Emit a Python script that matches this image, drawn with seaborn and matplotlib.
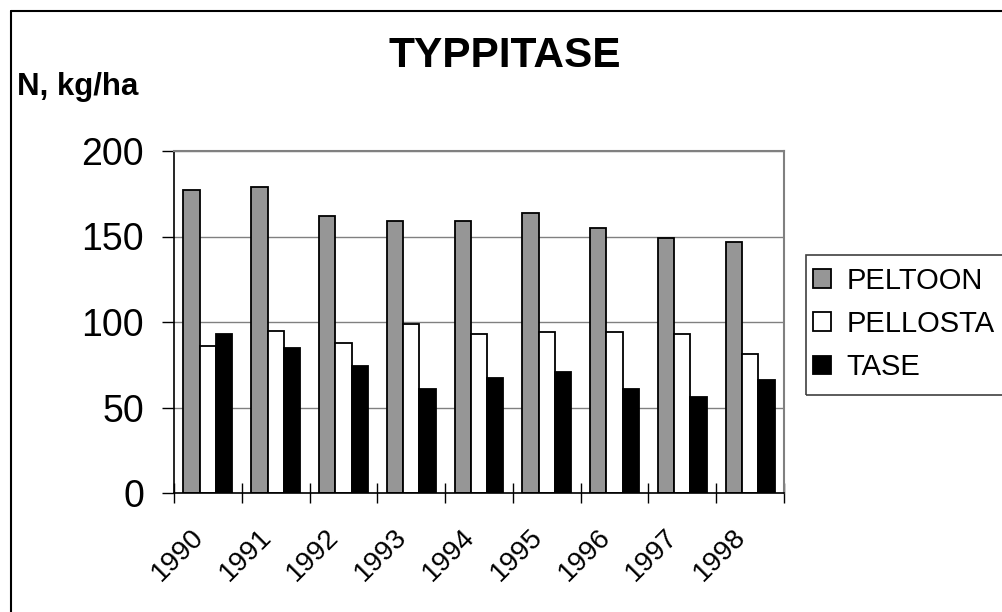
import numpy as np
import matplotlib
matplotlib.use("Agg")
import matplotlib.pyplot as plt
import matplotlib.transforms as mtransforms
from matplotlib.lines import Line2D
from matplotlib.patches import Rectangle
import seaborn as sns
import pandas as pd

years = ['1990', '1991', '1992', '1993', '1994', '1995', '1996', '1997', '1998']
series_names = ['PELTOON', 'PELLOSTA', 'TASE']
peltoon = [177, 179, 162, 159, 159, 164, 155, 149, 147]
pellosta = [86, 95, 88, 99, 93, 94, 94, 93, 81]
tase = [93, 85, 74, 61, 67, 71, 61, 56, 66]
y_ticks = [0, 50, 100, 150, 200]

df = pd.DataFrame({
    'year': years * 3,
    'series': [series_names[0]] * 9 + [series_names[1]] * 9 + [series_names[2]] * 9,
    'value': peltoon + pellosta + tase,
})

sns.set_theme(style='white')
plt.rcParams['font.family'] = ['Liberation Sans', 'DejaVu Sans']
plt.rcParams['text.color'] = 'black'
plt.rcParams['xtick.color'] = 'black'
plt.rcParams['ytick.color'] = 'black'

W, H = 1002, 612
fig = plt.figure(figsize=(W / 100, H / 100), dpi=100)
ax = fig.add_axes([174 / W, 1 - 493 / H, 610 / W, 342 / H])

sns.barplot(data=df, x='year', y='value', hue='series', order=years,
            hue_order=series_names, palette=['#969696', '#ffffff', '#000000'],
            edgecolor='black', linewidth=1.3, width=0.72, saturation=1, ax=ax)

ax.set_xlim(-0.5, len(years) - 0.5)
ax.set_ylim(0, 200)
ax.set_yticks(y_ticks)
ax.set_xlabel('')
ax.set_ylabel('')
ax.grid(axis='y', color='#808080', linewidth=1)
ax.set_axisbelow(True)

for side in ['top', 'right']:
    ax.spines[side].set_color('#808080')
    ax.spines[side].set_linewidth(1.5)
for side in ['left', 'bottom']:
    ax.spines[side].set_color('black')
    ax.spines[side].set_linewidth(1.2)

ax.tick_params(axis='y', direction='out', length=8.5, width=1, color='black',
               labelsize=27, labelcolor='black', pad=13, left=True)
# labels at centres, tick marks at category boundaries
ax.set_xticks(np.arange(-0.5, len(years)), minor=True)
ax.tick_params(axis='x', which='minor', direction='inout', length=15, width=1,
               color='black', bottom=True)
ax.tick_params(axis='x', which='major', length=0, labelsize=20,
               labelcolor='black', pad=29)
offset = mtransforms.ScaledTranslation(-6 / 72, 0, fig.dpi_scale_trans)
for lbl in ax.get_xticklabels():
    lbl.set_rotation(45)
    lbl.set_ha('right')
    lbl.set_va('center')
    lbl.set_rotation_mode('anchor')
    lbl.set_transform(lbl.get_transform() + offset)

handles, labels = ax.get_legend_handles_labels()
ax.get_legend().remove()
fig.legend(handles, labels, loc='center left',
           bbox_to_anchor=(813 / W, 1 - 324 / H), frameon=False,
           fontsize=21, handlelength=0.6, handleheight=0.6,
           handletextpad=0.55, labelspacing=0.52, borderpad=0, borderaxespad=0)

fig.add_artist(Rectangle((806 / W, 1 - 395 / H), 220 / W, 140 / H,
                         transform=fig.transFigure, fill=False,
                         edgecolor='#404040', linewidth=1.2, clip_on=False))

# chart frame
fig.add_artist(Line2D([10.5 / W, 10.5 / W], [0, 1 - 10.5 / H],
                      transform=fig.transFigure, color='black', linewidth=1.5))
fig.add_artist(Line2D([10.5 / W, 1], [1 - 10.5 / H, 1 - 10.5 / H],
                      transform=fig.transFigure, color='black', linewidth=1.5))

fig.text(505 / W, 1 - 56 / H, 'TYPPITASE', ha='center', va='center',
         fontsize=30.5, fontweight='bold')
fig.text(17 / W, 1 - 87 / H, 'N, kg/ha', ha='left', va='center',
         fontsize=22.5, fontweight='bold')

fig.savefig('out.png', dpi=100)
